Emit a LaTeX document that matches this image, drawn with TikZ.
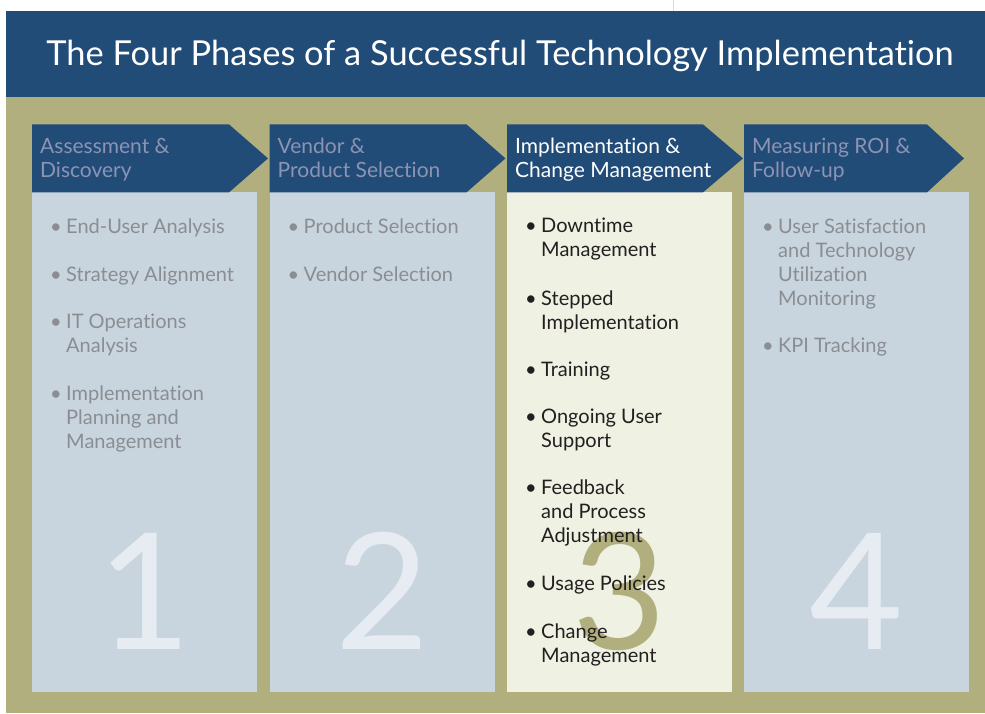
\documentclass[tikz,border=0pt]{standalone}
\usepackage{fontspec}
\setmainfont{Lato}[Ligatures=NoCommon]
\usetikzlibrary{positioning}

\definecolor{hdrblue}{HTML}{214C78}
\definecolor{olivebg}{HTML}{B1AF7E}
\definecolor{paleblue}{HTML}{C8D4DE}
\definecolor{creambg}{HTML}{EFF2E3}
\definecolor{ghost}{HTML}{E6ECF1}
\definecolor{greytext}{HTML}{8A8E93}
\definecolor{greyhead}{HTML}{8D93B3}
\definecolor{darktext}{HTML}{231F20}

% bullet with hanging lines
\newcommand{\bul}[1]{\makebox[16pt][l]{\textbullet}\parbox[t]{190pt}{#1}}
\newcommand{\hdr}[1]{\parbox[t]{220pt}{#1}}

\begin{document}
\begin{tikzpicture}[x=1pt, y=-1pt, every node/.style={inner sep=0pt},
    item/.style={anchor=base west, font=\fontsize{20}{24}\selectfont, text=greytext},
    item3/.style={item, text=darktext},
    headtext/.style={anchor=base west, font=\fontsize{21}{24.5}\selectfont, text=greyhead},
    bignum/.style={anchor=base, font=\fontsize{162}{162}\selectfont, text=ghost}]
\fill[white] (0,0) rectangle (985,713);
\fill[olivebg] (6,97) rectangle (985,713);
\fill[hdrblue] (6,11) rectangle (985,97);
\draw[line width=0.8pt, color=black!15] (673,0) -- (673,11);
\node[anchor=base, text=white, font=\fontsize{34.4}{40}\selectfont] (title) at (500,65)
    {The Four Phases of a Successful Technology Implementation};

% column bodies
\fill[paleblue] (32,192) rectangle (257,692);
\fill[paleblue] (269.5,192) rectangle (494.5,692);
\fill[creambg] (507,192) rectangle (732,692);
\fill[paleblue] (744,192) rectangle (969,692);

% arrow heads
\fill[hdrblue] (32,124) -- (229,124) -- (268,158) -- (229,192) -- (32,192) -- cycle;
\fill[hdrblue] (269.5,124) -- (466.5,124) -- (505.5,158) -- (466.5,192) -- (269.5,192) -- cycle;
\fill[hdrblue] (507,124) -- (703,124) -- (743,158) -- (703,192) -- (507,192) -- cycle;
\fill[hdrblue] (744,124) -- (927,124) -- (964,158) -- (927,192) -- (744,192) -- cycle;

% big numbers
\node[bignum] (num1) at (144.5,649) {1};
\node[bignum] (num2) at (382,649) {2};
\node[bignum, text=olivebg] (num3) at (619.5,649) {3};
\node[bignum] (num4) at (856.5,649) {4};

\node[headtext] (head1) at (40,153) {\hdr{Assessment \&\\Discovery}};
\node[headtext] (head2) at (277.5,153) {\hdr{Vendor \&\\Product Selection}};
\node[headtext, text=white] (head3) at (515,153) {\hdr{Implementation \&\\Change Management}};
\node[headtext] (head4) at (752,153) {\hdr{Measuring ROI \&\\Follow-up}};

% phase 1
\node[item] (a1) at (50,233) {\bul{End-User Analysis}};
\node[item] (a2) at (50,281) {\bul{Strategy Alignment}};
\node[item] (a3) at (50,328) {\bul{IT Operations\\Analysis}};
\node[item] (a4) at (50,400) {\bul{Implementation\\Planning and\\Management}};

% phase 2
\node[item] (b1) at (287.5,233) {\bul{Product Selection}};
\node[item] (b2) at (287.5,281) {\bul{Vendor Selection}};

% phase 3
\node[item3] (c1) at (525,232) {\bul{Downtime\\Management}};
\node[item3] (c2) at (525,305) {\bul{Stepped\\Implementation}};
\node[item3] (c3) at (525,376) {\bul{Training}};
\node[item3] (c4) at (525,423) {\bul{Ongoing User\\Support}};
\node[item3] (c5) at (525,494) {\bul{Feedback\\and Process\\Adjustment}};
\node[item3] (c6) at (525,590) {\bul{Usage Policies}};
\node[item3] (c7) at (525,638) {\bul{Change\\Management}};

% phase 4
\node[item] (d1) at (762,233) {\bul{User Satisfaction\\and Technology\\Utilization\\Monitoring}};
\node[item] (d2) at (762,352) {\bul{KPI Tracking}};
\end{tikzpicture}
\end{document}
